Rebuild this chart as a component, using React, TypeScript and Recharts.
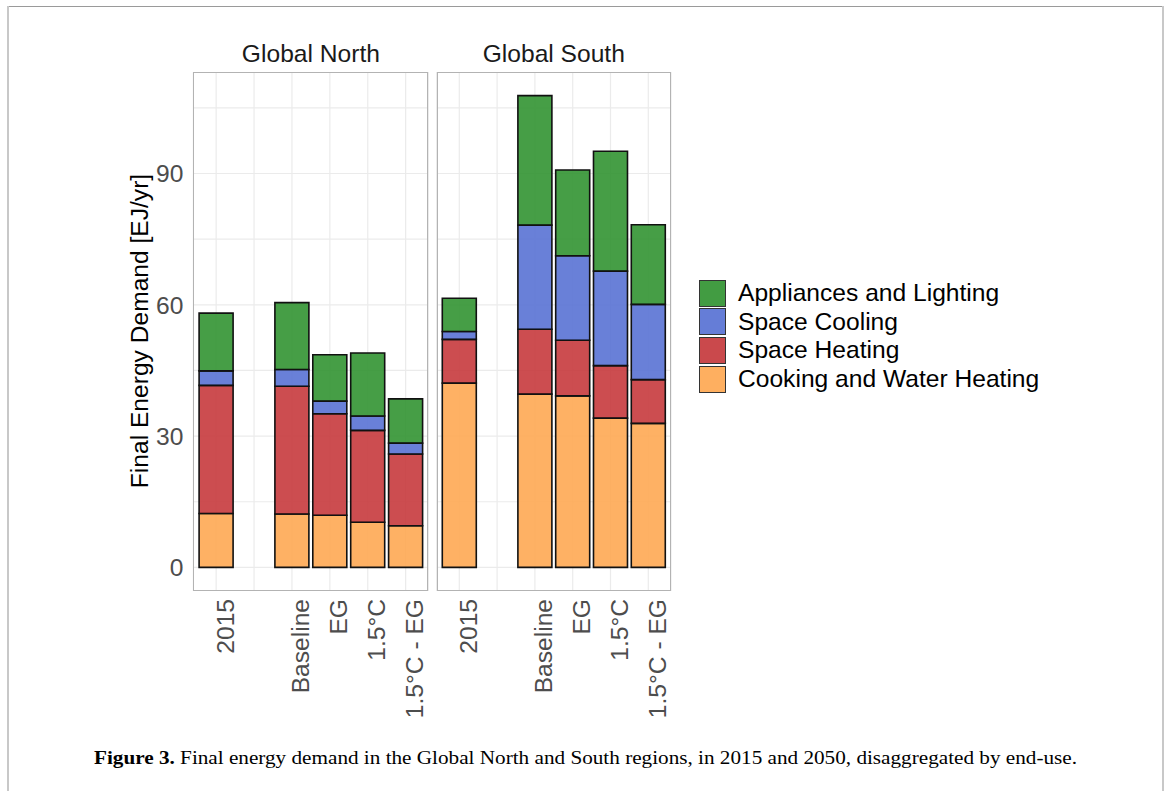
import React from "react";
import { BarChart, Bar, XAxis, YAxis, CartesianGrid } from "recharts";

const categories = ["2015", " ", "Baseline", "EG", "1.5°C", "1.5°C - EG"];

const northCooking = [12.3, null, 12.2, 11.9, 10.3, 9.5];
const northHeating = [29.3, null, 29.2, 23.2, 21.0, 16.4];
const northCooling = [3.3, null, 3.8, 2.9, 3.3, 2.5];
const northAppliances = [13.2, null, 15.3, 10.6, 14.4, 10.1];

const southCooking = [42.1, null, 39.6, 39.2, 34.1, 32.9];
const southHeating = [10.0, null, 14.8, 12.7, 12.0, 10.0];
const southCooling = [1.8, null, 23.8, 19.3, 21.6, 17.2];
const southAppliances = [7.6, null, 29.6, 19.6, 27.4, 18.2];

const yTicks = [0, 30, 60, 90];
const gridValues = [0, 15, 30, 45, 60, 75, 90, 105];
const yDomain = [-5.4, 113.2];

const series = [
  { key: "cooking", name: "Cooking and Water Heating", color: "#fea953" },
  { key: "heating", name: "Space Heating", color: "#c63a3d" },
  { key: "cooling", name: "Space Cooling", color: "#5972d4" },
  { key: "appliances", name: "Appliances and Lighting", color: "#329432" },
];

const panelTitles = ["Global North", "Global South"];
const yTitle = "Final Energy Demand [EJ/yr]";
const captionBold = "Figure 3.";
const captionText =
  " Final energy demand in the Global North and South regions, in 2015 and 2050, disaggregated by end-use.";

function buildRows(cook: any[], heat: any[], cool: any[], app: any[]) {
  return categories.map((c, i) => ({
    cat: c,
    cooking: cook[i],
    heating: heat[i],
    cooling: cool[i],
    appliances: app[i],
  }));
}

const northData = buildRows(northCooking, northHeating, northCooling, northAppliances);
const southData = buildRows(southCooking, southHeating, southCooling, southAppliances);

const FONT = '"Liberation Sans", Arial, Helvetica, sans-serif';
const FS = 24.6;

const XTick = (props: any) => {
  const { x, y, payload } = props;
  return (
    <text
      transform={`translate(${x},${y}) rotate(-90)`}
      x={0}
      y={17.5}
      textAnchor="end"
      fontSize={FS}
      fill="#4d4d4d"
      fontFamily={FONT}
    >
      {payload.value}
    </text>
  );
};

function Panel(props: { data: any[]; showY: boolean; width: number; margin: any }) {
  const { data, showY, width, margin } = props;
  return (
    <BarChart
      width={width}
      height={720}
      data={data}
      margin={margin}
      barCategoryGap="5%"
    >
      <CartesianGrid
        stroke="#ebebeb"
        strokeWidth={1.2}
        horizontalValues={gridValues}
        fill="none"
      />
      <XAxis
        dataKey="cat"
        type="category"
        height={129}
        padding={{ left: 3.8, right: 3.8 }}
        axisLine={false}
        tickLine={false}
        tickSize={0}
        tickMargin={8}
        interval={0}
        tick={<XTick />}
      />
      <YAxis
        type="number"
        domain={yDomain}
        ticks={yTicks}
        allowDataOverflow
        hide={!showY}
        width={60}
        axisLine={false}
        tickLine={false}
        tickSize={0}
        tickMargin={10}
        tick={{ fontSize: FS, fill: "#4d4d4d", fontFamily: FONT }}
      />
      {series.map((s) => (
        <Bar
          key={s.key}
          dataKey={s.key}
          name={s.name}
          stackId="a"
          fill={s.color}
          fillOpacity={0.9}
          stroke="#111"
          strokeWidth={1.6}
          isAnimationActive={false}
        />
      ))}
    </BarChart>
  );
}

export default function App() {
  const legendItems = [...series].reverse();
  return (
    <div
      style={{
        position: "absolute",
        left: 0,
        top: 0,
        width: 1170,
        height: 791,
        background: "#fff",
        fontFamily: FONT,
        overflow: "hidden",
      }}
    >
      {/* page frame */}
      <div style={{ position: "absolute", left: 7, top: 6, width: 1157, height: 1, background: "#9a9a9a" }} />
      <div style={{ position: "absolute", left: 7, top: 6, width: 2, height: 785, background: "#c8c8c8" }} />
      <div style={{ position: "absolute", left: 1162, top: 6, width: 2, height: 785, background: "#c8c8c8" }} />

      <div style={{ position: "absolute", left: 0, top: 0 }}>
        <Panel
          data={northData}
          showY={true}
          width={440}
          margin={{ top: 72, right: 11.6, bottom: 0, left: 133.4 }}
        />
      </div>
      <div style={{ position: "absolute", left: 430, top: 0 }}>
        <Panel
          data={southData}
          showY={false}
          width={250}
          margin={{ top: 72, right: 9, bottom: 0, left: 6.6 }}
        />
      </div>

      {/* panel borders */}
      <div
        style={{
          position: "absolute",
          left: 193.4,
          top: 72,
          width: 235,
          height: 519,
          border: "1px solid #b3b3b3",
          boxSizing: "border-box",
          pointerEvents: "none",
        }}
      />
      <div
        style={{
          position: "absolute",
          left: 436.6,
          top: 72,
          width: 234.4,
          height: 519,
          border: "1px solid #b3b3b3",
          boxSizing: "border-box",
          pointerEvents: "none",
        }}
      />

      <svg
        width={1170}
        height={791}
        style={{ position: "absolute", left: 0, top: 0, pointerEvents: "none" }}
      >
        <text x={310.9} y={62} textAnchor="middle" fontSize={FS} fill="#1a1a1a" fontFamily={FONT}>
          {panelTitles[0]}
        </text>
        <text x={553.8} y={62} textAnchor="middle" fontSize={FS} fill="#1a1a1a" fontFamily={FONT}>
          {panelTitles[1]}
        </text>
        <text
          transform="translate(147.5,331) rotate(-90)"
          textAnchor="middle"
          fontSize={FS}
          fill="#000"
          fontFamily={FONT}
        >
          {yTitle}
        </text>
        <text
          x={94}
          y={764}
          fontSize={19.5}
          fill="#000"
          fontFamily='"Liberation Serif", "Times New Roman", serif'
          textLength={983}
          lengthAdjust="spacingAndGlyphs"
        >
          <tspan fontWeight="bold">{captionBold}</tspan>
          <tspan>{captionText}</tspan>
        </text>
      </svg>

      {/* legend */}
      <div style={{ position: "absolute", left: 699, top: 279 }}>
        {legendItems.map((s) => (
          <div key={s.key} style={{ display: "flex", alignItems: "center", height: 28.6 }}>
            <div
              style={{
                width: 27,
                height: 27,
                boxSizing: "border-box",
                border: "1.5px solid #222",
                background: s.color,
                opacity: 0.92,
              }}
            />
            <span style={{ marginLeft: 12, fontSize: FS, color: "#000", lineHeight: "28px" }}>
              {s.name}
            </span>
          </div>
        ))}
      </div>
    </div>
  );
}
